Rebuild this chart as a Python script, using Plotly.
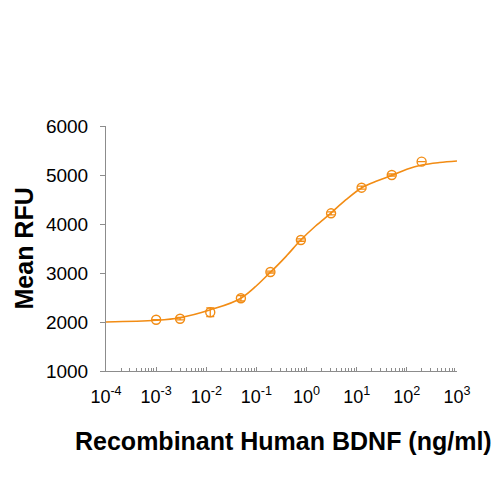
import plotly.graph_objects as go

# Measured data points (ng/ml vs Mean RFU)
conc = [0.001, 0.003, 0.012, 0.049, 0.19, 0.77, 3.08, 12.5, 50, 197]
rfu = [2047, 2067, 2198, 2484, 3020, 3673, 4218, 4741, 5000, 5272]
err = [None, 25, 90, 55, 20, 25, 30, 30, 20, None]

# Fitted curve
curve_x = [1e-4, 1e-3, 0.003, 0.0117, 0.049, 0.195, 0.39, 0.766, 1.51,
           3.02, 6.03, 12.6, 25.1, 50.1, 100, 200, 447, 1000]
curve_y = [2000, 2035, 2088, 2245, 2484, 3027, 3340, 3673, 3959,
           4218, 4490, 4741, 4878, 4990, 5116, 5204, 5255, 5286]

x_tickvals = [1e-4, 1e-3, 1e-2, 1e-1, 1, 10, 100, 1000]
x_ticktext = ["10<sup>-4</sup>", "10<sup>-3</sup>", "10<sup>-2</sup>", "10<sup>-1</sup>",
              "10<sup>0</sup>", "10<sup>1</sup>", "10<sup>2</sup>", "10<sup>3</sup>"]
y_tickvals = [1000, 2000, 3000, 4000, 5000, 6000]

x_title = "Recombinant Human BDNF (ng/ml)"
y_title = "Mean RFU"

orange = "#F28C14"
axis_col = "#8c8c8c"

fig = go.Figure()
fig.add_trace(go.Scatter(
    x=curve_x, y=curve_y, mode="lines",
    line=dict(color=orange, width=1.6, shape="spline", smoothing=1.0),
    hoverinfo="skip", showlegend=False))
fig.add_trace(go.Scatter(
    x=conc, y=rfu, mode="markers",
    marker=dict(symbol="circle-open", size=9, color=orange, line=dict(width=1.4, color=orange)),
    error_y=dict(type="data", array=err, visible=True, color=orange, thickness=1.3, width=4),
    showlegend=False))

font_family = "Liberation Sans, Arial, sans-serif"
fig.update_layout(
    width=500, height=500,
    margin=dict(l=98, r=51, t=118, b=137),
    paper_bgcolor="white", plot_bgcolor="white",
    font=dict(family=font_family, color="black"),
    xaxis=dict(
        type="log", range=[-4, 3], automargin=False,
        tickvals=x_tickvals, ticktext=x_ticktext,
        tickfont=dict(size=18, color="black"),
        ticks="inside", ticklen=4, tickcolor=axis_col, tickwidth=1,
        ticklabelstandoff=9,
        minor=dict(ticks="inside", ticklen=3, tickcolor=axis_col, dtick="D1", showgrid=False),
        showline=True, linecolor=axis_col, linewidth=1,
        showgrid=False, zeroline=False,
    ),
    yaxis=dict(
        range=[1000, 6000], tickvals=y_tickvals, automargin=False,
        tickfont=dict(size=19, color="black"),
        ticks="outside", ticklen=5, tickcolor=axis_col, tickwidth=1,
        ticklabelstandoff=8,
        showline=True, linecolor=axis_col, linewidth=1,
        showgrid=False, zeroline=False,
    ),
    annotations=[
        dict(text="<b>" + x_title + "</b>", xref="paper", yref="paper",
             x=0.5, y=0, xanchor="center", yanchor="middle", yshift=-70, xshift=2,
             showarrow=False, font=dict(size=25, color="black")),
        dict(text="<b>" + y_title + "</b>", xref="paper", yref="paper",
             x=0, y=0.5, xanchor="center", yanchor="middle", xshift=-83,
             textangle=-90, showarrow=False, font=dict(size=25, color="black")),
    ],
)

fig.write_html("out.html")
